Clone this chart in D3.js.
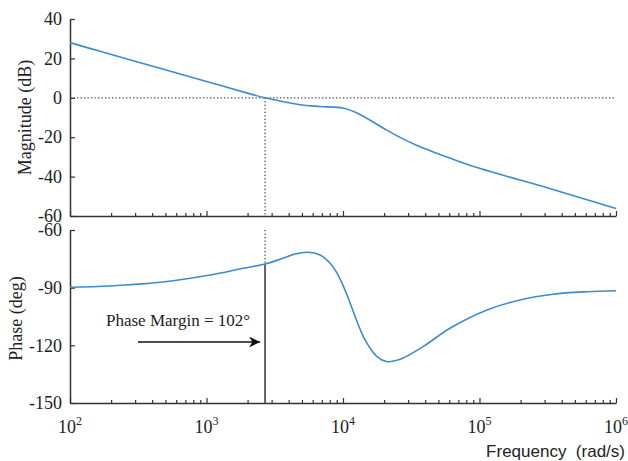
<!DOCTYPE html>
<html>
<head>
<meta charset="utf-8">
<script src="https://cdn.jsdelivr.net/npm/d3@7"></script>
<style>
  body { margin: 0; background: #fff; }
  svg { display: block; }
</style>
</head>
<body>
<svg id="chart"></svg>
<script>
// Bode plot data
const freqMag = [100, 166, 456, 1000, 2083, 2685, 4840, 6790, 10000, 12680, 19640, 26180, 34850, 60810, 100000, 345000, 1000000];
const magDb   = [28.0, 23.6, 15.0, 8.3, 2.0, 0.0, -3.5, -4.4, -5.2, -7.7, -15.3, -20.1, -24.2, -30.6, -35.8, -46.5, -56.2];

const freqPhase = [100, 196, 456, 1062, 1850, 2685, 3633, 4450, 5540, 6790, 8040, 9190, 10700, 12680, 14500, 17740, 21000, 26180, 38550, 60810, 113500, 198000, 345000, 613000, 1000000];
const phaseDeg  = [-89.8, -89.1, -87.2, -83.4, -79.9, -77.7, -74.7, -72.5, -71.6, -73.0, -77.3, -83.4, -93.8, -107.7, -117.2, -125.9, -128.5, -127.3, -120.7, -111.1, -101.6, -96.4, -93.4, -92.1, -91.6];

const magTicks = [40, 20, 0, -20, -40, -60];
const phaseTicks = [-60, -90, -120, -150];
const decadeTicks = [1e2, 1e3, 1e4, 1e5, 1e6];
const decadeExp = [2, 3, 4, 5, 6];

const crossoverFreq = 2685;   // 0 dB crossing
const phaseMargin = 102;      // degrees

const width = 628;
const height = 461;
const serif = "'Liberation Serif', 'Times New Roman', serif";
const sans = "'Liberation Sans', Arial, sans-serif";
const lineColor = "#3d8bcd";
const axisColor = "#333";

const svg = d3.select("#chart")
    .attr("width", width)
    .attr("height", height);

const x = d3.scaleLog().domain([1e2, 1e6]).range([70, 616]);
const yMag = d3.scaleLinear().domain([-60, 40]).range([216, 19]);
const yPh = d3.scaleLinear().domain([-150, -60]).range([403, 230]);

// minor ticks 2..9 of each decade
const minorTicks = [];
decadeTicks.slice(0, -1).forEach(d => {
    for (let k = 2; k <= 9; k++) minorTicks.push(d * k);
});

function styleAxis(g) {
    g.select(".domain").attr("stroke", axisColor).attr("stroke-width", 1.5);
    g.selectAll(".tick line").attr("stroke", axisColor).attr("stroke-width", 1.2);
    g.selectAll("text")
        .attr("font-family", serif)
        .attr("font-size", 18)
        .attr("fill", "#222");
}

function drawXAxis(yPos) {
    const major = svg.append("g")
        .attr("transform", `translate(0,${yPos})`)
        .call(d3.axisBottom(x).tickValues(decadeTicks).tickSize(-5).tickSizeOuter(0).tickFormat(""));
    styleAxis(major);
    const minor = svg.append("g")
        .attr("transform", `translate(0,${yPos})`)
        .call(d3.axisBottom(x).tickValues(minorTicks).tickSize(-3).tickSizeOuter(0).tickFormat(""));
    styleAxis(minor);
    minor.select(".domain").remove();
}

function drawYAxis(scale, ticks) {
    const g = svg.append("g")
        .attr("transform", "translate(70,0)")
        .call(d3.axisLeft(scale).tickValues(ticks).tickSize(-5).tickSizeOuter(0)
            .tickPadding(8).tickFormat(d => String(d)));
    styleAxis(g);
}

// ---- magnitude panel ----
drawXAxis(216);
drawYAxis(yMag, magTicks);

// 0 dB reference line
svg.append("line")
    .attr("x1", x(1e2)).attr("x2", x(1e6))
    .attr("y1", yMag(0)).attr("y2", yMag(0))
    .attr("stroke", "#444").attr("stroke-width", 1.3)
    .attr("stroke-dasharray", "1.3 2.2");

// crossover marker
svg.append("line")
    .attr("x1", x(crossoverFreq)).attr("x2", x(crossoverFreq))
    .attr("y1", yMag(0)).attr("y2", yMag(-60))
    .attr("stroke", "#444").attr("stroke-width", 1.3)
    .attr("stroke-dasharray", "1.3 2.2");

const magLine = d3.line()
    .x((d, i) => x(freqMag[i]))
    .y(d => yMag(d))
    .curve(d3.curveCatmullRom.alpha(0.5));

svg.append("path")
    .datum(magDb)
    .attr("d", magLine)
    .attr("fill", "none")
    .attr("stroke", lineColor)
    .attr("stroke-width", 1.6);

svg.append("text")
    .attr("transform", `translate(25,${(yMag(40) + yMag(-60)) / 2}) rotate(-90)`)
    .attr("text-anchor", "middle")
    .attr("dominant-baseline", "central")
    .attr("font-family", serif)
    .attr("font-size", 18)
    .attr("fill", "#222")
    .text("Magnitude (dB)");

// ---- phase panel ----
drawXAxis(403);
drawYAxis(yPh, phaseTicks);

const pmPhase = -180 + phaseMargin;

svg.append("line")
    .attr("x1", x(crossoverFreq)).attr("x2", x(crossoverFreq))
    .attr("y1", yPh(-60)).attr("y2", yPh(pmPhase))
    .attr("stroke", "#444").attr("stroke-width", 1.3)
    .attr("stroke-dasharray", "1.3 2.2");

svg.append("line")
    .attr("x1", x(crossoverFreq)).attr("x2", x(crossoverFreq))
    .attr("y1", yPh(pmPhase)).attr("y2", yPh(-150))
    .attr("stroke", "#555").attr("stroke-width", 1.8);

const phLine = d3.line()
    .x((d, i) => x(freqPhase[i]))
    .y(d => yPh(d))
    .curve(d3.curveCatmullRom.alpha(0.5));

svg.append("path")
    .datum(phaseDeg)
    .attr("d", phLine)
    .attr("fill", "none")
    .attr("stroke", lineColor)
    .attr("stroke-width", 1.6);

svg.append("text")
    .attr("transform", `translate(16,${(yPh(-60) + yPh(-150)) / 2 + 2}) rotate(-90)`)
    .attr("text-anchor", "middle")
    .attr("dominant-baseline", "central")
    .attr("font-family", serif)
    .attr("font-size", 18)
    .attr("fill", "#222")
    .text("Phase (deg)");

// phase margin annotation
svg.append("text")
    .attr("x", 106)
    .attr("y", 326)
    .attr("font-family", serif)
    .attr("font-size", 17)
    .attr("fill", "#222")
    .text(`Phase Margin = ${phaseMargin}°`);

svg.append("defs").append("marker")
    .attr("id", "arrow")
    .attr("viewBox", "0 0 10 10")
    .attr("refX", 10).attr("refY", 5)
    .attr("markerUnits", "userSpaceOnUse")
    .attr("markerWidth", 16).attr("markerHeight", 11)
    .attr("orient", "auto")
    .append("path")
    .attr("d", "M0,0 L10,5 L0,10 L3,5 Z")
    .attr("fill", "#111");

svg.append("line")
    .attr("x1", 138).attr("x2", x(crossoverFreq) - 5)
    .attr("y1", 342).attr("y2", 342)
    .attr("stroke", "#111").attr("stroke-width", 1.5)
    .attr("marker-end", "url(#arrow)");

// decade labels 10^n
const labels = svg.append("g")
    .attr("font-family", serif)
    .attr("font-size", 18)
    .attr("fill", "#222");

decadeTicks.forEach((d, i) => {
    const t = labels.append("text")
        .attr("x", x(d))
        .attr("y", 433)
        .attr("text-anchor", "middle");
    t.append("tspan").text("10");
    t.append("tspan")
        .attr("dy", -8)
        .attr("font-size", 12)
        .text(decadeExp[i]);
});

svg.append("text")
    .attr("x", 625)
    .attr("y", 457)
    .attr("text-anchor", "end")
    .attr("font-family", sans)
    .attr("font-size", 17)
    .attr("fill", "#222")
    .style("white-space", "pre")
    .text("Frequency  (rad/s)");
</script>
</body>
</html>
